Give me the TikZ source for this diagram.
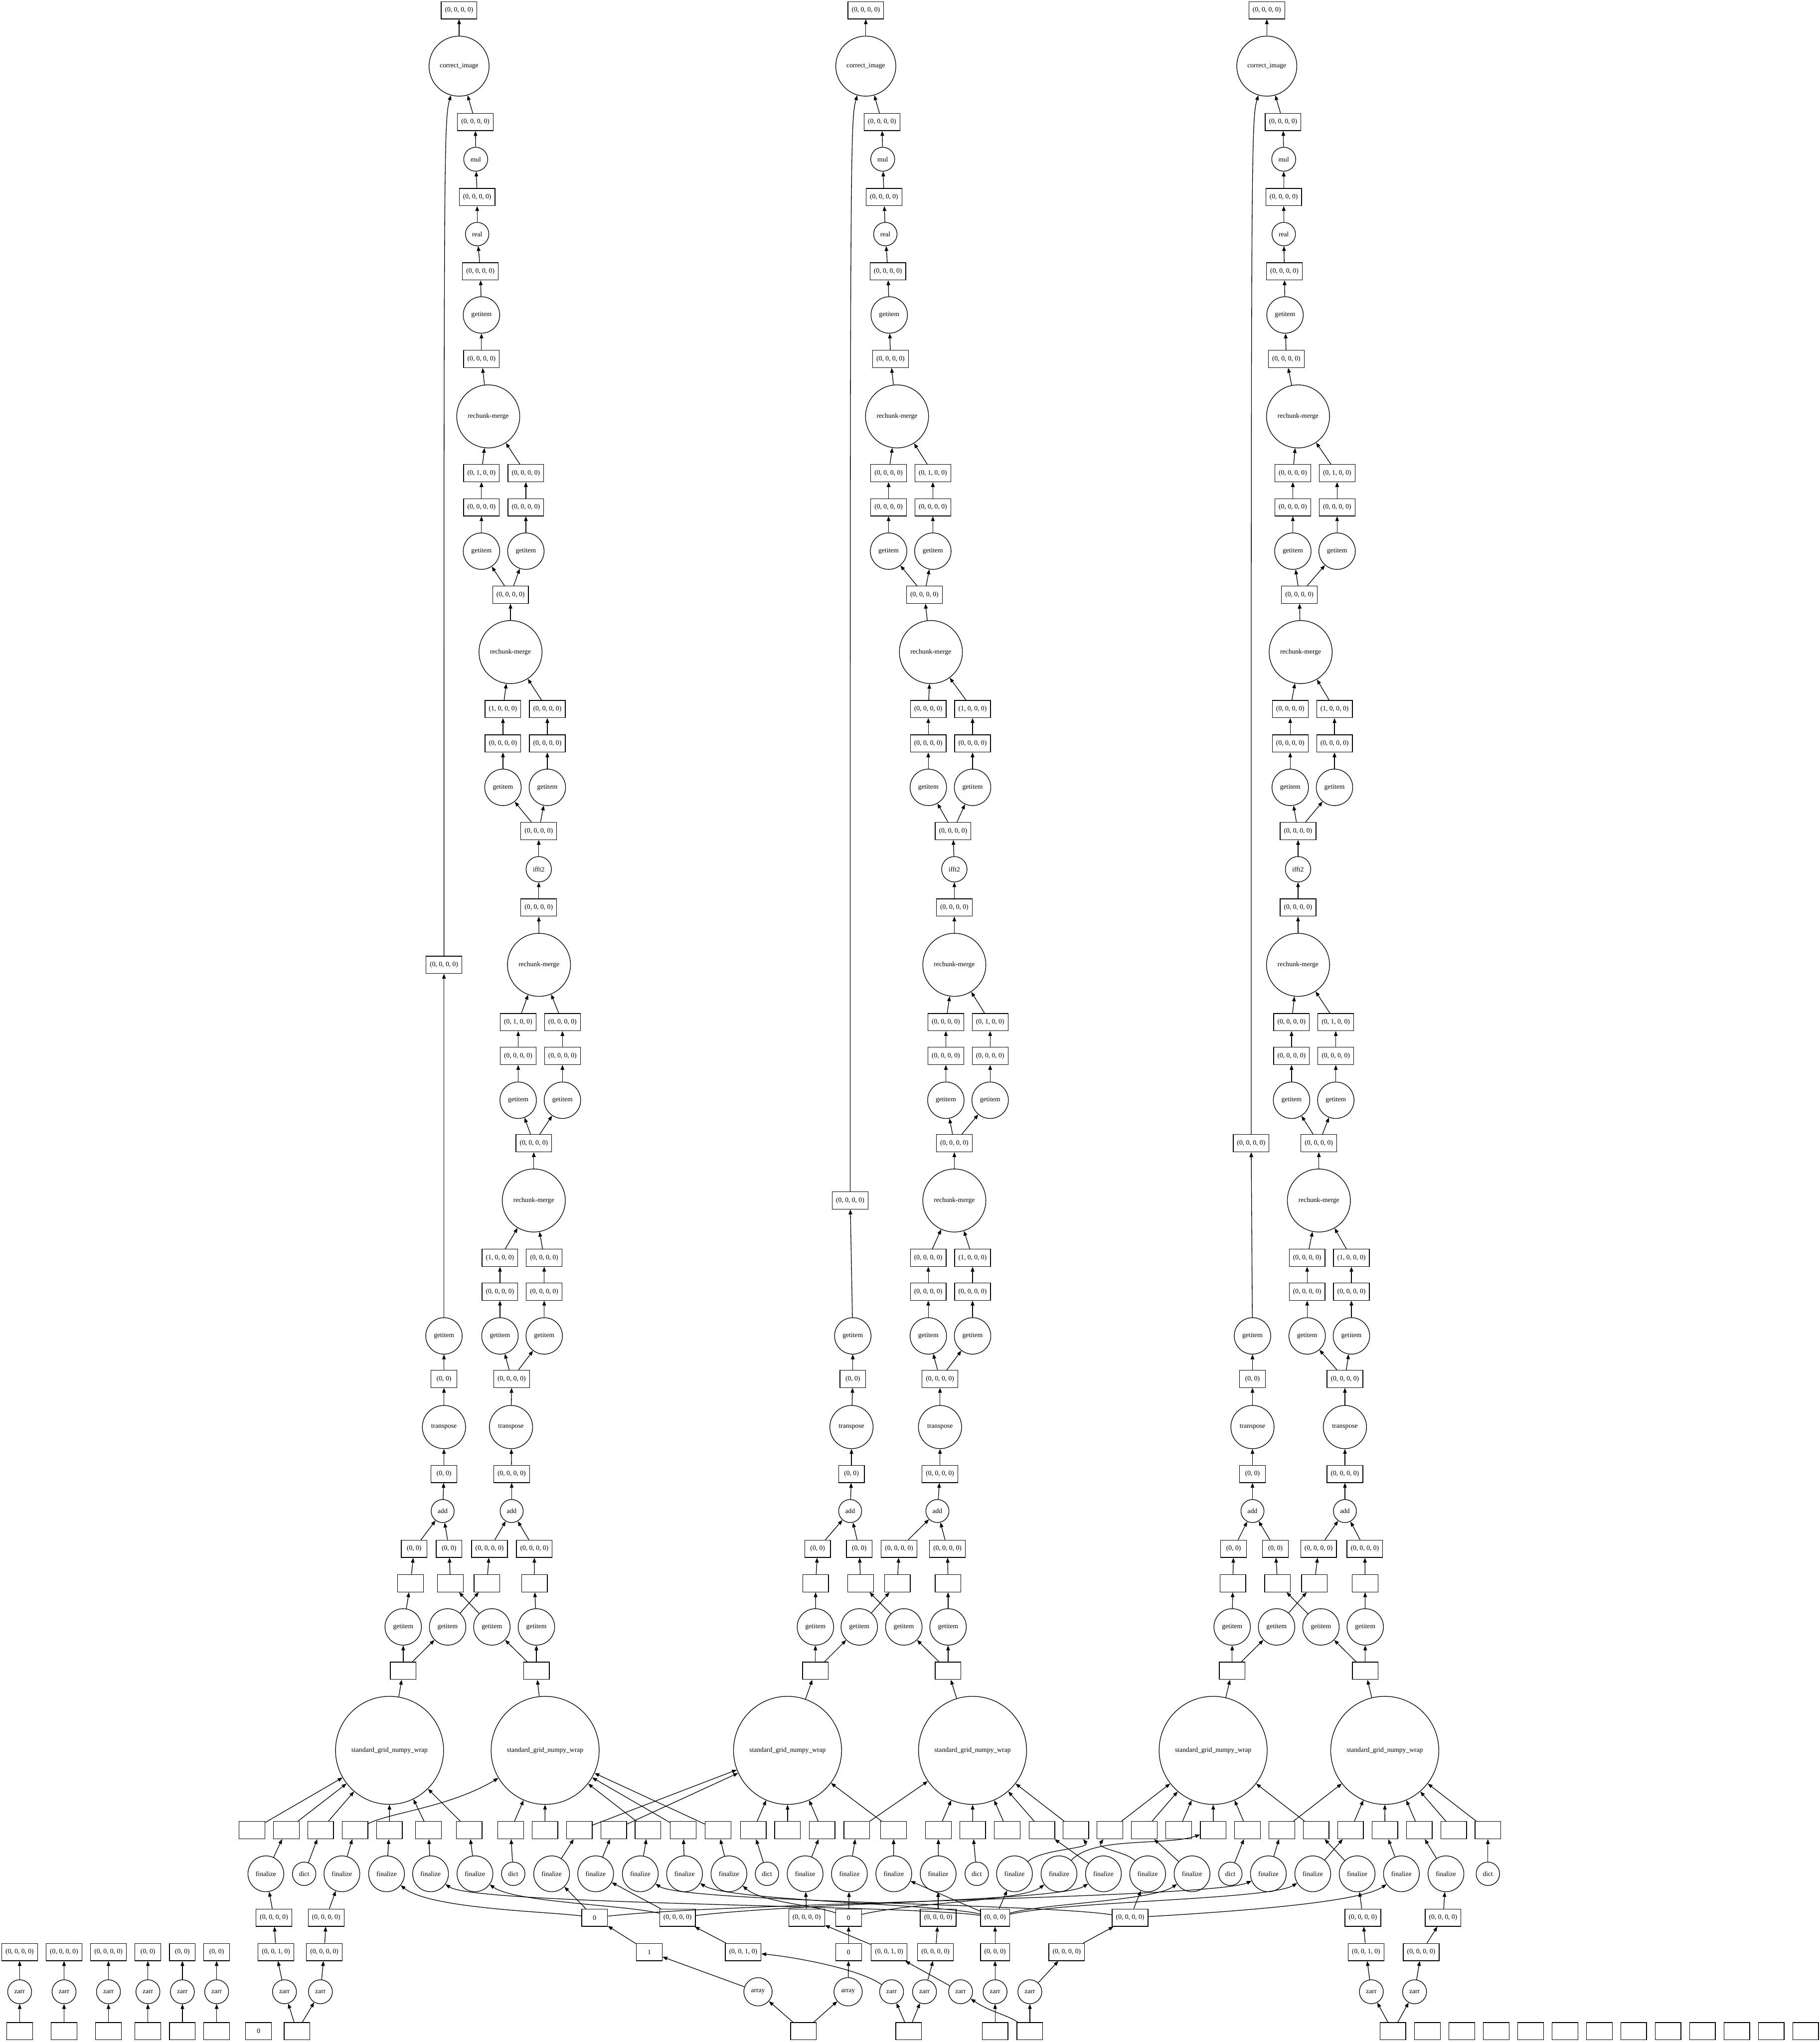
\documentclass[tikz,border=0pt]{standalone}
\usepackage{fontspec}
\setmainfont{Liberation Serif}
\usetikzlibrary{arrows.meta}
\newcommand{\tpa}{(0, 0, 0, 0)}
\newcommand{\tpb}{(0, 1, 0, 0)}
\newcommand{\tpc}{(1, 0, 0, 0)}
\newcommand{\tpd}{(0, 0, 1, 0)}
\newcommand{\tpe}{(0, 0)}
\newcommand{\tpf}{(0, 0, 0)}
\begin{document}
\begin{tikzpicture}[x=1pt,y=-1pt,font=\fontsize{5.2}{6}\selectfont,line width=0.5pt,
  bx/.style={draw,rectangle,inner sep=0pt,minimum height=13.3pt,minimum width=27.5pt},
  eb/.style={bx,minimum width=19.8pt},
  mb/.style={bx,minimum width=22.3pt},
  cc/.style={draw,circle,inner sep=0pt,minimum size=#1},
  ar/.style={-{Triangle[length=3.7pt,width=2.8pt]}}]
\path[fill=white,use as bounding box] (0,0) rectangle (1397.9,1568.3);

% ================= Column A =================
\node[bx] (A0) at (352.6,7.9) {\tpa};
\node[cc=46.1] (Aci) at (352.6,50.8) {correct\_image};
\node[bx] (A1) at (365.1,93.7) {\tpa};
\node[cc=18.4] (Amul) at (365.4,122.3) {mul};
\node[bx] (A2) at (366.5,151.4) {\tpa};
\node[cc=18] (Areal) at (366.5,179.8) {real};
\node[bx] (A3) at (369,208.4) {\tpa};
\node[cc=28] (Agi) at (369.8,241.9) {getitem};
\node[bx] (A4) at (369.8,275.7) {\tpa};
\node[cc=48.4] (Arm1) at (375,319.8) {rechunk-merge};
\node[bx] (A5l) at (369.8,363.4) {\tpb};
\node[bx] (A5r) at (403.9,363.4) {\tpa};
\node[bx] (A6l) at (369.8,389.6) {\tpa};
\node[bx] (A6r) at (403.9,389.6) {\tpa};
\node[cc=28] (A7l) at (369.8,423.3) {getitem};
\node[cc=28] (A7r) at (403.9,423.3) {getitem};
\node[bx] (A8) at (392.1,456.8) {\tpa};
\node[cc=48.4] (Arm2) at (392.1,500.8) {rechunk-merge};
\node[bx] (A9l) at (386.3,544.6) {\tpc};
\node[bx] (A9r) at (420.4,544.6) {\tpa};
\node[bx] (A10l) at (386.3,571) {\tpa};
\node[bx] (A10r) at (420.4,571) {\tpa};
\node[cc=28] (A11l) at (386.3,604.7) {getitem};
\node[cc=28] (A11r) at (420.4,604.7) {getitem};
\node[bx] (A12) at (413.8,638.2) {\tpa};
\node[cc=19.5] (Aifft) at (413.8,667.6) {ifft2};
\node[bx] (A13) at (413.8,697) {\tpa};
\node[cc=48.4] (Arm3) at (414,741) {rechunk-merge};
\node[bx] (A14l) at (398,785) {\tpb};
\node[bx] (A14r) at (432,785) {\tpa};
\node[bx] (A15l) at (398,811) {\tpa};
\node[bx] (A15r) at (432,811) {\tpa};
\node[cc=28] (A16l) at (398,845) {getitem};
\node[cc=28] (A16r) at (432,845) {getitem};
\node[bx] (A17) at (410,878) {\tpa};
\node[cc=48.4] (Arm4) at (410,922) {rechunk-merge};
\node[bx] (A18l) at (384,966) {\tpc};
\node[bx] (A18r) at (418,966) {\tpa};
\node[bx] (A19l) at (384,992) {\tpa};
\node[bx] (A19r) at (418,992) {\tpa};
\node[cc=28] (A20l) at (384,1026) {getitem};
\node[cc=28] (A20r) at (418,1026) {getitem};
\node[bx] (A21) at (393,1059) {\tpa};
\node[cc=33.2] (Atr) at (392.5,1096) {transpose};
\node[bx] (A22) at (393,1132) {\tpa};
\node[cc=17.7] (Aadd) at (393,1160.5) {add};
\node[bx] (A23l) at (376,1189.5) {\tpa};
\node[bx] (A23r) at (410.4,1189.5) {\tpa};
\node[eb] (A24l) at (374,1216) {};
\node[eb] (A24r) at (410.5,1216) {};
\node[bx] (Ao1) at (341,741) {\tpa};
\node[cc=28] (Aogi) at (341,1026) {getitem};
\node[eb] (Ao2) at (341,1059) {\tpe};
\node[cc=33.2] (Aotr) at (341,1096) {transpose};
\node[eb] (Ao3) at (341,1132) {\tpe};
\node[cc=17.7] (Aoadd) at (340,1160.5) {add};
\node[eb] (Ao4l) at (318.1,1189.5) {\tpe};
\node[eb] (Ao4r) at (344.9,1189.5) {\tpe};
\node[eb] (Ao5l) at (315.3,1216) {};
\node[eb] (Ao5r) at (346,1216) {};
\node[cc=28] (Ag1) at (309.7,1249.5) {getitem};
\node[cc=28] (Ag2) at (343.8,1249.5) {getitem};
\node[cc=28] (Ag3) at (377.8,1249.5) {getitem};
\node[cc=28] (Ag4) at (412,1249.5) {getitem};
\node[eb] (Ae1) at (309.7,1283.2) {};
\node[eb] (Ae2) at (412,1283.2) {};
\node[cc=83] (Asl) at (299.2,1344.3) {standard\_grid\_numpy\_wrap};
\node[cc=83] (Asr) at (418.7,1344.3) {standard\_grid\_numpy\_wrap};

% ================= Column B =================
\node[bx] (B0) at (665,7.9) {\tpa};
\node[cc=46.1] (Bci) at (665,50.8) {correct\_image};
\node[bx] (B1) at (677.5,93.7) {\tpa};
\node[cc=18.4] (Bmul) at (678,122.3) {mul};
\node[bx] (B2) at (679,151.4) {\tpa};
\node[cc=18] (Breal) at (680,179.8) {real};
\node[bx] (B3) at (682,208.4) {\tpa};
\node[cc=28] (Bgi) at (683,241.9) {getitem};
\node[bx] (B4) at (684,275.7) {\tpa};
\node[cc=48.4] (Brm1) at (689,319.8) {rechunk-merge};
\node[bx] (B5l) at (682.5,363.4) {\tpa};
\node[bx] (B5r) at (716.5,363.4) {\tpb};
\node[bx] (B6l) at (682.5,389.6) {\tpa};
\node[bx] (B6r) at (716.5,389.6) {\tpa};
\node[cc=28] (B7l) at (682.5,423.3) {getitem};
\node[cc=28] (B7r) at (716.5,423.3) {getitem};
\node[bx] (B8) at (710,456.8) {\tpa};
\node[cc=48.4] (Brm2) at (715,500.8) {rechunk-merge};
\node[bx] (B9l) at (713,544.6) {\tpa};
\node[bx] (B9r) at (747,544.6) {\tpc};
\node[bx] (B10l) at (713,571) {\tpa};
\node[bx] (B10r) at (747,571) {\tpa};
\node[cc=28] (B11l) at (713,604.7) {getitem};
\node[cc=28] (B11r) at (747,604.7) {getitem};
\node[bx] (B12) at (732,638.2) {\tpa};
\node[cc=19.5] (Bifft) at (733,667.6) {ifft2};
\node[bx] (B13) at (733,697) {\tpa};
\node[cc=48.4] (Brm3) at (733,741) {rechunk-merge};
\node[bx] (B14l) at (726.5,785) {\tpa};
\node[bx] (B14r) at (760.5,785) {\tpb};
\node[bx] (B15l) at (726.5,811) {\tpa};
\node[bx] (B15r) at (760.5,811) {\tpa};
\node[cc=28] (B16l) at (726.5,845) {getitem};
\node[cc=28] (B16r) at (760.5,845) {getitem};
\node[bx] (B17) at (733,878) {\tpa};
\node[cc=48.4] (Brm4) at (733,922) {rechunk-merge};
\node[bx] (B18l) at (713,966) {\tpa};
\node[bx] (B18r) at (747,966) {\tpc};
\node[bx] (B19l) at (713,992) {\tpa};
\node[bx] (B19r) at (747,992) {\tpa};
\node[cc=28] (B20l) at (713,1026) {getitem};
\node[cc=28] (B20r) at (747,1026) {getitem};
\node[bx] (B21) at (722,1059) {\tpa};
\node[cc=33.2] (Btr) at (722,1096) {transpose};
\node[bx] (B22) at (722,1132) {\tpa};
\node[cc=17.7] (Badd) at (720,1160.5) {add};
\node[bx] (B23l) at (690.6,1189.5) {\tpa};
\node[bx] (B23r) at (727.7,1189.5) {\tpa};
\node[eb] (B24l) at (689.2,1216) {};
\node[eb] (B24r) at (728.2,1216) {};
\node[bx] (Bo1) at (653,922) {\tpa};
\node[cc=28] (Bogi) at (655,1026) {getitem};
\node[eb] (Bo2) at (655,1059) {\tpe};
\node[cc=33.2] (Botr) at (654,1096) {transpose};
\node[eb] (Bo3) at (654,1132) {\tpe};
\node[cc=17.7] (Boadd) at (653,1160.5) {add};
\node[eb] (Bo4l) at (628,1189.5) {\tpe};
\node[eb] (Bo4r) at (660,1189.5) {\tpe};
\node[eb] (Bo5l) at (626.5,1216) {};
\node[eb] (Bo5r) at (661,1216) {};
\node[cc=28] (Bg1) at (626.3,1249.5) {getitem};
\node[cc=28] (Bg2) at (660,1249.5) {getitem};
\node[cc=28] (Bg3) at (694.2,1249.5) {getitem};
\node[cc=28] (Bg4) at (728.2,1249.5) {getitem};
\node[eb] (Be1) at (626.3,1283.2) {};
\node[eb] (Be2) at (728.2,1283.2) {};
\node[cc=83] (Bsl) at (604.9,1344.3) {standard\_grid\_numpy\_wrap};
\node[cc=83] (Bsr) at (747,1344.3) {standard\_grid\_numpy\_wrap};

% ================= Column C =================
\node[bx] (C0) at (973,7.9) {\tpa};
\node[cc=46.1] (Cci) at (973,50.8) {correct\_image};
\node[bx] (C1) at (985.5,93.7) {\tpa};
\node[cc=18.4] (Cmul) at (986,122.3) {mul};
\node[bx] (C2) at (986,151.4) {\tpa};
\node[cc=18] (Creal) at (986,179.8) {real};
\node[bx] (C3) at (986.5,208.4) {\tpa};
\node[cc=28] (Cgi) at (987,241.9) {getitem};
\node[bx] (C4) at (988,275.7) {\tpa};
\node[cc=48.4] (Crm1) at (997,319.8) {rechunk-merge};
\node[bx] (C5l) at (993,363.4) {\tpa};
\node[bx] (C5r) at (1027,363.4) {\tpb};
\node[bx] (C6l) at (993,389.6) {\tpa};
\node[bx] (C6r) at (1027,389.6) {\tpa};
\node[cc=28] (C7l) at (993,423.3) {getitem};
\node[cc=28] (C7r) at (1027,423.3) {getitem};
\node[bx] (C8) at (998,456.8) {\tpa};
\node[cc=48.4] (Crm2) at (999,500.8) {rechunk-merge};
\node[bx] (C9l) at (991,544.6) {\tpa};
\node[bx] (C9r) at (1025,544.6) {\tpc};
\node[bx] (C10l) at (991,571) {\tpa};
\node[bx] (C10r) at (1025,571) {\tpa};
\node[cc=28] (C11l) at (991,604.7) {getitem};
\node[cc=28] (C11r) at (1025,604.7) {getitem};
\node[bx] (C12) at (997,638.2) {\tpa};
\node[cc=19.5] (Cifft) at (997,667.6) {ifft2};
\node[bx] (C13) at (997,697) {\tpa};
\node[cc=48.4] (Crm3) at (997,741) {rechunk-merge};
\node[bx] (C14l) at (992,785) {\tpa};
\node[bx] (C14r) at (1026,785) {\tpb};
\node[bx] (C15l) at (992,811) {\tpa};
\node[bx] (C15r) at (1026,811) {\tpa};
\node[cc=28] (C16l) at (992,845) {getitem};
\node[cc=28] (C16r) at (1026,845) {getitem};
\node[bx] (C17) at (1013,878) {\tpa};
\node[cc=48.4] (Crm4) at (1013,922) {rechunk-merge};
\node[bx] (C18l) at (1004,966) {\tpa};
\node[bx] (C18r) at (1038,966) {\tpc};
\node[bx] (C19l) at (1004,992) {\tpa};
\node[bx] (C19r) at (1038,992) {\tpa};
\node[cc=28] (C20l) at (1004,1026) {getitem};
\node[cc=28] (C20r) at (1038,1026) {getitem};
\node[bx] (C21) at (1033,1059) {\tpa};
\node[cc=33.2] (Ctr) at (1033,1096) {transpose};
\node[bx] (C22) at (1033,1132) {\tpa};
\node[cc=17.7] (Cadd) at (1033,1160.5) {add};
\node[bx] (C23l) at (1012.8,1189.5) {\tpa};
\node[bx] (C23r) at (1048.3,1189.5) {\tpa};
\node[eb] (C24l) at (1009.6,1216) {};
\node[eb] (C24r) at (1048.5,1216) {};
\node[bx] (Co1) at (961,878) {\tpa};
\node[cc=28] (Cogi) at (962,1026) {getitem};
\node[eb] (Co2) at (962,1059) {\tpe};
\node[cc=33.2] (Cotr) at (962,1096) {transpose};
\node[eb] (Co3) at (962,1132) {\tpe};
\node[cc=17.7] (Coadd) at (962,1160.5) {add};
\node[eb] (Co4l) at (947.5,1189.5) {\tpe};
\node[eb] (Co4r) at (979.6,1189.5) {\tpe};
\node[eb] (Co5l) at (946.9,1216) {};
\node[eb] (Co5r) at (981.3,1216) {};
\node[cc=28] (Cg1) at (946.4,1249.5) {getitem};
\node[cc=28] (Cg2) at (980.5,1249.5) {getitem};
\node[cc=28] (Cg3) at (1014.6,1249.5) {getitem};
\node[cc=28] (Cg4) at (1048.6,1249.5) {getitem};
\node[eb] (Ce1) at (946.4,1283.2) {};
\node[eb] (Ce2) at (1048.6,1283.2) {};
\node[cc=83] (Csl) at (931.8,1344.3) {standard\_grid\_numpy\_wrap};
\node[cc=83] (Csr) at (1063.6,1344.3) {standard\_grid\_numpy\_wrap};

% column edges
\foreach \cl in {A,B,C}{
  \foreach \sa/\sb in {ci/0,1/ci,mul/1,2/mul,real/2,3/real,gi/3,4/gi,rm1/4,5l/rm1,5r/rm1,6l/5l,6r/5r,7l/6l,7r/6r,8/7l,8/7r,rm2/8,9l/rm2,9r/rm2,10l/9l,10r/9r,11l/10l,11r/10r,12/11l,12/11r,ifft/12,13/ifft,rm3/13,14l/rm3,14r/rm3,15l/14l,15r/14r,16l/15l,16r/15r,17/16l,17/16r,rm4/17,18l/rm4,18r/rm4,19l/18l,19r/18r,20l/19l,20r/19r,21/20l,21/20r,tr/21,22/tr,add/22,23l/add,23r/add,24l/23l,24r/23r,g2/24l,g4/24r,o4l/oadd,o4r/oadd,oadd/o3,o3/otr,otr/o2,o2/ogi,ogi/o1,o5l/o4l,o5r/o4r,g1/o5l,g3/o5r,e1/g1,e1/g2,e2/g3,e2/g4,sl/e1,sr/e2}
    \draw[ar] (\cl\sa) -- (\cl\sb);
}
\draw[ar] (Ao1) .. controls (341,110) and (341,92) .. (Aci);
\draw[ar] (Bo1) .. controls (653,110) and (653,92) .. (Bci);
\draw[ar] (Co1) .. controls (961,110) and (961,92) .. (Cci);

% ================= Bottom region =================
\foreach \i/\x in {1/193.5,2/219.9,3/246.3,4/272.7,5/299.1,6/329.1,7/360.4,8/392.2,9/418.6,10/445.0,11/471.4,12/497.7,13/524.8,14/551.5,15/578.6,16/604.9,17/631.4,18/658.1,19/686.3,20/720.8,21/747.1,22/773.6,23/800.3,24/826.3,25/852.5,26/878.9,27/905.3,28/931.9,29/958.1,30/984.5,31/1010.9,32/1037.3,33/1063.7,34/1090.1,35/1116.5,36/1142.8}
  \node[eb] (b\i) at (\x,1405.6) {};
\foreach \i/\x in {1/204.2,3/262.6,4/296.9,5/330.7,6/364.8,8/423.7,9/457.5,10/491.8,11/525.8,12/559.9,14/618.4,15/652.4,16/686.5,17/720.6,19/779.2,20/813.4,21/847.5,22/881.5,23/915.6,25/974.2,26/1008.3,27/1042.4,28/1076.4,29/1110.6}
  \node[cc=27.5] (f\i) at (\x,1439.1) {finalize};
\foreach \i/\x in {2/233.6,7/394.2,13/589.1,18/750.2,24/945.0,30/1142.8}
  \node[cc=18] (f\i) at (\x,1439.1) {dict};

\node[bx] (s1) at (210.4,1472.8) {\tpa};
\node[bx] (s2) at (250.5,1472.8) {\tpa};
\node[eb] (S0a) at (456.7,1472.8) {0};
\node[bx] (SA) at (520.4,1472.8) {\tpa};
\node[bx] (s3) at (619.6,1472.8) {\tpa};
\node[eb] (S0b) at (651.8,1472.8) {0};
\node[bx] (s4) at (720.6,1472.8) {\tpa};
\node[mb] (SC) at (764.3,1472.8) {\tpf};
\node[bx] (SB) at (868.0,1472.8) {\tpa};
\node[bx] (s5) at (1046.8,1472.8) {\tpa};
\node[bx] (s6) at (1108.4,1472.8) {\tpa};

\node[bx] (t1) at (212,1499.2) {\tpd};
\node[bx] (t2) at (249.1,1499.2) {\tpa};
\node[eb] (t3) at (498.7,1499.2) {1};
\node[bx] (t4) at (570.8,1499.2) {\tpd};
\node[eb] (t5) at (651.8,1499.2) {0};
\node[bx] (t6) at (682.9,1499.2) {\tpd};
\node[bx] (t7) at (718.5,1499.2) {\tpa};
\node[mb] (t8) at (764.3,1499.2) {\tpf};
\node[bx] (t9) at (819.3,1499.2) {\tpa};
\node[bx] (t10) at (1049.2,1499.2) {\tpd};
\node[bx] (t11) at (1091.6,1499.2) {\tpa};

\node[cc=18.4] (z1) at (218.5,1529.7) {zarr};
\node[cc=18.4] (z2) at (246.1,1529.7) {zarr};
\node[cc=21.7] (ar1) at (582.2,1529.7) {array};
\node[cc=21.7] (ar2) at (651.4,1529.7) {array};
\node[cc=18.4] (z3) at (684.8,1529.7) {zarr};
\node[cc=18.4] (z4) at (710.1,1529.7) {zarr};
\node[cc=18.4] (z5) at (737.8,1529.7) {zarr};
\node[cc=18.4] (z6) at (764.3,1529.7) {zarr};
\node[cc=18.4] (z7) at (791.0,1529.7) {zarr};
\node[cc=18.4] (z8) at (1053.3,1529.7) {zarr};
\node[cc=18.4] (z9) at (1086.5,1529.7) {zarr};

\node[eb] (u1) at (228.1,1560) {};
\node[eb] (u2) at (617.1,1560) {};
\node[eb] (u3) at (697.9,1560) {};
\node[eb] (u4) at (764.3,1560) {};
\node[eb] (u5) at (791.0,1560) {};
\node[eb] (u6) at (1069.8,1560) {};
\node[eb] (i0) at (198.6,1560) {0};
\foreach \k in {0,...,11}
  \node[eb] (r\k) at ({1096.4+26.4*\k},1560) {};

% isolated zarr chains on the left
\foreach \i/\x in {1/15.1,2/49.2,3/83.3}
  \node[bx] (k\i) at (\x,1499.2) {\tpa};
\foreach \i/\x in {4/113.6,5/140.1,6/166.4}
  \node[eb] (k\i) at (\x,1499.2) {\tpe};
\foreach \i/\x in {1/15.1,2/49.2,3/83.3,4/113.6,5/140.1,6/166.4}{
  \node[cc=18.4] (kz\i) at (\x,1529.7) {zarr};
  \node[eb] (kb\i) at (\x,1560) {};
  \draw[ar] (kb\i) -- (kz\i);
  \draw[ar] (kz\i) -- (k\i);
}

% finalize -> boxes
\foreach \a/\b in {1/2,2/3,3/4,4/5,5/6,6/7,7/8,8/10,9/11,10/12,11/13,12/14,13/15,14/17,15/18,16/19,17/20,18/21,21/23,23/26,24/29,25/30,26/32,27/31,28/33,29/34,30/36}
  \draw[ar] (f\a) -- (b\b);
\draw[ar] (f19) .. controls (800,1420) and (838,1420) .. (b24);
\draw[ar] (f22) .. controls (865,1422) and (842,1420) .. (b25);
\draw[ar] (f20) .. controls (840,1410) and (895,1418) .. (b28);

% boxes -> standard_grid_numpy_wrap
\foreach \a in {1,2,3,5,6,7} \draw[ar] (b\a) -- (Asl);
\foreach \a in {8,9,12,13,14} \draw[ar] (b\a) -- (Asr);
\draw[ar] (b4) .. controls (300,1392) and (345,1388) .. (Asr);
\foreach \a in {10,11,15,16,17,19} \draw[ar] (b\a) -- (Bsl);
\foreach \a in {18,20,21,22,23,24} \draw[ar] (b\a) -- (Bsr);
\foreach \a in {25,26,27,28,29,31} \draw[ar] (b\a) -- (Csl);
\foreach \a in {30,32,33,34,35,36} \draw[ar] (b\a) -- (Csr);

% lower chains
\foreach \a/\b in {u1/z1,u1/z2,z1/t1,z2/t2,t1/s1,t2/s2,s1/f1,s2/f3,u2/ar1,u2/ar2,ar1/t3,ar2/t5,t5/S0b,t3/S0a,u3/z3,u3/z4,z4/t7,t7/s4,s4/f17,z5/t6,t6/s3,s3/f14,u4/z6,z6/t8,t8/SC,u5/z7,z7/t9,t9/SB,u6/z8,u6/z9,z8/t10,t10/s5,s5/f27,z9/t11,t11/s6,s6/f29,t4/SA,S0a/f8,SA/f9,S0b/f15,SC/f16,SC/f19,SB/f22}
  \draw[ar] (\a) -- (\b);
\draw[ar] (z3) .. controls (660,1512) and (610,1503) .. (t4);
\draw[ar] (u5) .. controls (775,1548) and (760,1545) .. (z5);

% shared inputs to finalize
\draw[ar] (S0a) .. controls (420,1468) and (330,1466) .. (f4);
\draw[ar] (S0a) .. controls (560,1461) and (930,1458) .. (f25);
\draw[ar] (SA) .. controls (480,1463) and (395,1461) .. (f6);
\draw[ar] (SA) .. controls (620,1461) and (815,1460) .. (f21);
\draw[ar] (S0b) .. controls (625,1463) and (585,1461) .. (f12);
\draw[ar] (S0b) .. controls (700,1461) and (785,1460) .. (f20);
\draw[ar] (SB) .. controls (800,1462) and (525,1461) .. (f10);
\draw[ar] (SB) .. controls (950,1468) and (1045,1461) .. (f28);
\draw[ar] (SC) .. controls (700,1463) and (365,1463) .. (f5);
\draw[ar] (SC) .. controls (720,1462) and (560,1460) .. (f11);
\draw[ar] (SC) .. controls (800,1462) and (885,1460) .. (f23);
\draw[ar] (SC) .. controls (820,1460) and (975,1459) .. (f26);
\end{tikzpicture}
\end{document}
